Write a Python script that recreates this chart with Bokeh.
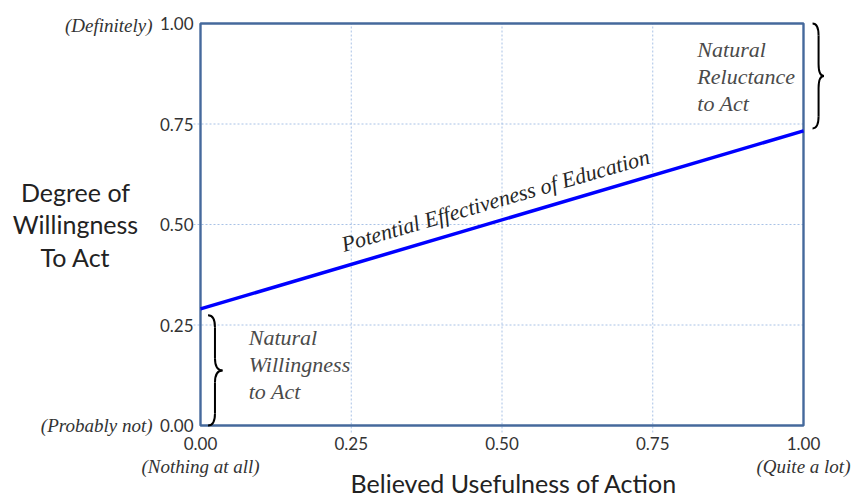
from bokeh.plotting import figure
from bokeh.models import Range1d, FixedTicker, Label, NumeralTickFormatter
from bokeh.embed import file_html
from bokeh.resources import INLINE

# ---- data ----
x_ticks = [0.0, 0.25, 0.5, 0.75, 1.0]
y_ticks = [0.0, 0.25, 0.5, 0.75, 1.0]
line_x = [0.0, 1.0]
line_y = [0.29, 0.733]
x_axis_title = "Believed Usefulness of Action"
y_axis_title = "Degree of\nWillingness\nTo Act"
x_end_labels = ["(Nothing at all)", "(Quite a lot)"]
y_end_labels = ["(Probably not)", "(Definitely)"]
line_label = "Potential Effectiveness of Education"
low_note = "Natural\nWillingness\nto Act"
high_note = "Natural\nReluctance\nto Act"

SERIF = "Liberation Serif"
SANS = "Lato"
FRAME = "#45699C"
GRID = "#A9C2E6"

W, H = 852, 498
# pixel geometry of the unit square inside the canvas
PX_L, PX_R, PX_T, PX_B = 200, 803, 23, 425
sx = PX_R - PX_L
sy = PX_B - PX_T
x_range = Range1d(-PX_L / sx, (W - PX_L) / sx)
y_range = Range1d(-(H - PX_B) / sy, 1 + PX_T / sy)

p = figure(width=W, height=H, x_range=x_range, y_range=y_range,
           output_backend="svg", toolbar_location=None, min_border=0)
p.outline_line_color = None
p.grid.visible = False
p.background_fill_color = "white"
p.border_fill_color = "white"

for ax, ticks in ((p.xaxis[0], x_ticks), (p.yaxis[0], y_ticks)):
    ax.fixed_location = 0
    ax.ticker = FixedTicker(ticks=ticks)
    ax.formatter = NumeralTickFormatter(format="0.00")
    ax.axis_line_color = None
    ax.major_tick_line_color = None
    ax.minor_tick_line_color = None
    ax.major_tick_out = 0
    ax.major_tick_in = 0
    ax.major_label_text_font = SANS
    ax.major_label_text_font_size = "17px"
    ax.major_label_text_color = "#333333"
p.yaxis[0].major_label_standoff = 7
p.xaxis[0].major_label_standoff = 11

# grid lines (extend ~7px past the box like tick marks)
ext_x, ext_y = 7 / sx, 7 / sy
inner_x = [t for t in x_ticks if 0 < t < 1]
inner_y = [t for t in y_ticks if 0 < t < 1]
p.segment(x0=inner_x, y0=[y_ticks[0] - ext_y] * len(inner_x), x1=inner_x,
          y1=[y_ticks[-1]] * len(inner_x), line_color=GRID, line_width=1, line_dash="2 2")
p.segment(x0=[x_ticks[0] - ext_x] * len(inner_y), y0=inner_y, x1=[x_ticks[-1]] * len(inner_y),
          y1=inner_y, line_color=GRID, line_width=1, line_dash="2 2")

# plot border
p.quad(left=[x_ticks[0]], right=[x_ticks[-1]], bottom=[y_ticks[0]], top=[y_ticks[-1]],
       fill_alpha=0, line_color=FRAME, line_width=2.4)

# main line
p.line(line_x, line_y, line_color="#0000FF", line_width=3.5)


def brace(x0, xm, xt, yb, yt, k):
    ym = (yb + yt) / 2
    qs = dict(x0=[x0, xm, xt, xm], y0=[yt, ym + k, ym, yb + k],
              x1=[xm, xt, xm, x0], y1=[yt - k, ym, ym - k, yb],
              cx=[xm, xm, xm, xm], cy=[yt, ym, ym, yb])
    p.quadratic(**qs, line_color="black", line_width=2)
    p.segment(x0=[xm, xm], y0=[yt - k, ym - k], x1=[xm, xm], y1=[ym + k, yb + k],
              line_color="black", line_width=2)


brace(0.0125, 0.024, 0.0365, y_ticks[0], line_y[0] - 0.016, 0.03)
brace(1.015, 1.025, 1.034, line_y[-1] + 0.006, y_ticks[-1], 0.03)


def label(**kw):
    p.add_layout(Label(**kw))


# annotations inside the chart
label(x=0.489, y=0.56, text=line_label, angle=0.281, text_align="center",
      text_baseline="alphabetic", text_font=SERIF, text_font_style="italic",
      text_font_size="22px", text_color="#262626")
label(x=0.08, y=0.25, text=low_note, text_align="left", text_baseline="top",
      text_font=SERIF, text_font_style="italic", text_font_size="22px",
      text_color="#4a4a4a", text_line_height=1.08)
label(x=0.824, y=0.967, text=high_note, text_align="left", text_baseline="top",
      text_font=SERIF, text_font_style="italic", text_font_size="22px",
      text_color="#4a4a4a", text_line_height=1.08)

# italic end-of-scale descriptions
ital = dict(text_font=SERIF, text_font_style="italic", text_font_size="19px",
            text_color="#333333", text_baseline="middle")
label(x=x_ticks[0], y=y_ticks[0], x_offset=-48, text=y_end_labels[0], text_align="right", **ital)
label(x=x_ticks[0], y=y_ticks[-1], x_offset=-48, y_offset=-2, text=y_end_labels[1],
      text_align="right", **ital)
label(x=x_ticks[0], y=y_ticks[0], y_offset=-41, text=x_end_labels[0], text_align="center", **ital)
label(x=x_ticks[-1], y=y_ticks[0], y_offset=-41, text=x_end_labels[1], text_align="center", **ital)

# axis titles
title_style = dict(text_font=SANS, text_font_size="25px", text_color="#222222",
                   text_align="center", text_baseline="middle")
label(x=0.5, y=y_ticks[0], x_offset=12, y_offset=-57, text=x_axis_title, **title_style)
label(x=x_ticks[0], y=0.5, x_offset=-125, text=y_axis_title, text_line_height=1.08, **title_style)

open("out.html", "w").write(file_html(p, INLINE))
